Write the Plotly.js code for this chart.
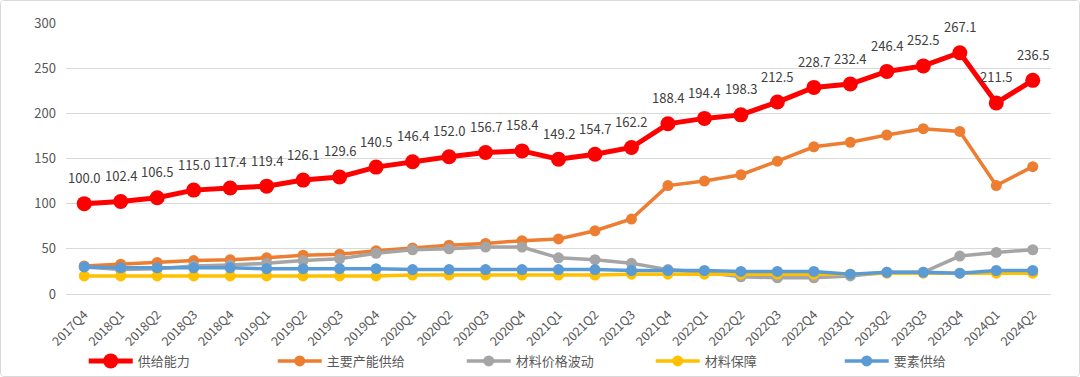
<!DOCTYPE html>
<html>
<head>
<meta charset="utf-8">
<script src="https://cdn.plot.ly/plotly-3.0.1.min.js"></script>
<style>
html,body{margin:0;padding:0;background:#fff;}
#chart{width:1080px;height:377px;box-sizing:border-box;border:1px solid #d9d9d9;border-radius:4px;overflow:hidden;}
</style>
</head>
<body>
<div id="chart"></div>
<script>
const quarters = ["2017Q4","2018Q1","2018Q2","2018Q3","2018Q4","2019Q1","2019Q2","2019Q3","2019Q4","2020Q1","2020Q2","2020Q3","2020Q4","2021Q1","2021Q2","2021Q3","2021Q4","2022Q1","2022Q2","2022Q3","2022Q4","2023Q1","2023Q2","2023Q3","2023Q4","2024Q1","2024Q2"];
const supplyCapacity = [100.0,102.4,106.5,115.0,117.4,119.4,126.1,129.6,140.5,146.4,152.0,156.7,158.4,149.2,154.7,162.2,188.4,194.4,198.3,212.5,228.7,232.4,246.4,252.5,267.1,211.5,236.5];
const mainCapacity = [31,33,35,37,38,40,43,44,48,51,54,56,59,61,70,83,120,125,132,147,163,168,176,183,180,120,141];
const materialPrice = [30,27,28,31,32,34,37,39,45,49,50,52,52,40,38,34,27,24,19,18,18,20,24,24,42,46,49];
const materialSecurity = [20,20,20,20,20,20,20,20,20,21,21,21,21,21,21,22,22,22,22,22,22,22,23,23,23,23,23];
const factorSupply = [30,29,29,29,29,28,28,28,28,27,27,27,27,27,27,26,26,26,25,25,25,22,24,24,23,26,26];
const seriesNames = ["供给能力","主要产能供给","材料价格波动","材料保障","要素供给"];

const fontFam = "'Noto Sans CJK SC','Noto Sans',sans-serif";
function line(name, y, color, msize, lw) {
  return {
    x: quarters, y: y, name: name, type: 'scatter', mode: 'lines+markers',
    line: {color: color, width: lw}, marker: {color: color, size: msize},
    cliponaxis: false
  };
}
const traces = [
  line(seriesNames[0], supplyCapacity, '#FF0000', 15, 5),
  line(seriesNames[1], mainCapacity, '#ED7D31', 11, 3.5),
  line(seriesNames[2], materialPrice, '#A5A5A5', 11, 3.5),
  line(seriesNames[3], materialSecurity, '#FFC000', 11, 3.5),
  line(seriesNames[4], factorSupply, '#5B9BD5', 11, 3.5)
];
const annotations = quarters.map((q, i) => ({
  x: q, y: supplyCapacity[i], xref: 'x', yref: 'y',
  text: supplyCapacity[i].toFixed(1), showarrow: false,
  yshift: 26, font: {size: 13, color: '#404040', family: fontFam}
}));
const layout = {
  width: 1078, height: 375,
  margin: {l: 65, r: 28, t: 22, b: 82, autoexpand: false},
  paper_bgcolor: '#fff', plot_bgcolor: '#fff',
  font: {family: fontFam, color: '#595959', size: 12},
  showlegend: true,
  annotations: annotations,
  legend: {orientation: 'h', x: 0.018, xanchor: 'left', y: -0.247, yanchor: 'middle',
    font: {size: 13, color: '#595959', family: fontFam}, entrywidth: 130, entrywidthmode: 'pixels',
    itemwidth: 44, traceorder: 'normal', tracegroupgap: 0},
  xaxis: {type: 'category', range: [-0.5, 26.5], tickangle: -45, showgrid: false,
    showline: false, zeroline: false, ticks: '', ticklabelstandoff: 10,
    tickfont: {size: 12.5, color: '#595959'}, automargin: false},
  yaxis: {range: [0, 300], dtick: 50, showgrid: true, gridcolor: '#d9d9d9', gridwidth: 1,
    zeroline: true, zerolinecolor: '#d9d9d9', zerolinewidth: 1, showline: false, ticks: '',
    ticklabelstandoff: 9, tickfont: {size: 13, color: '#595959'}, automargin: false}
};
Plotly.newPlot('chart', traces, layout, {displayModeBar: false, staticPlot: true});
</script>
</body>
</html>
